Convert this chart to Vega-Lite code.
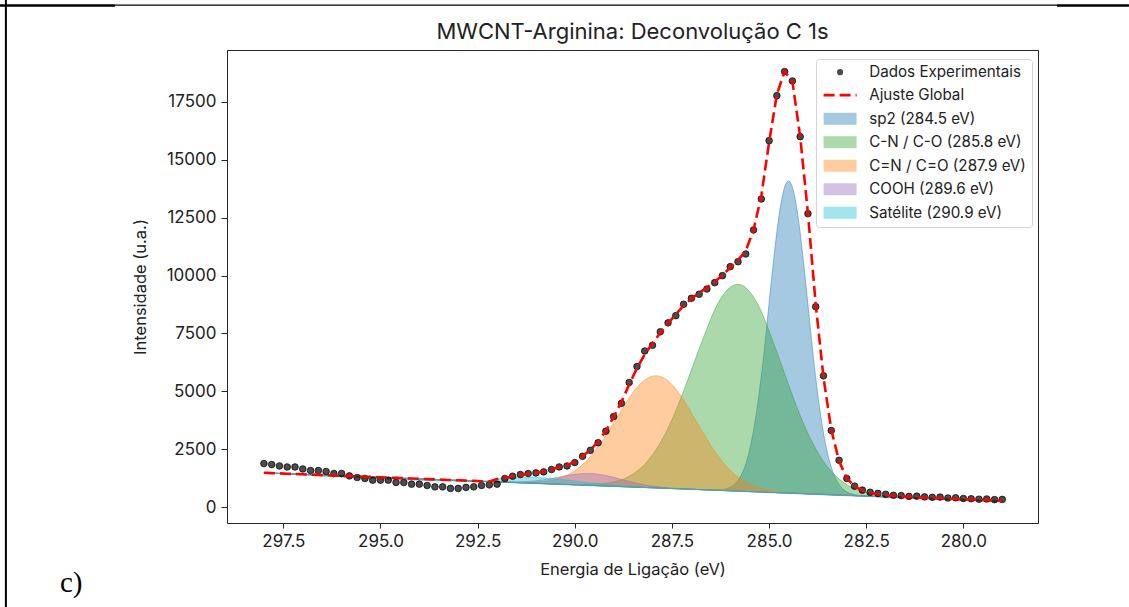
{
  "$schema": "https://vega.github.io/schema/vega-lite/v6.json",
  "width": 811,
  "height": 473,
  "autosize": {"type": "none"},
  "padding": {"left": 227, "top": 50, "right": 91, "bottom": 84},
  "background": "white",
  "title": {"text": "MWCNT-Arginina: Deconvolução C 1s", "font": "Inter", "fontSize": 22, "fontWeight": "normal", "color": "#222222", "offset": -45, "frame": "group", "anchor": "middle"},
  "config": {
    "view": {"stroke": "#262626", "strokeWidth": 1},
    "axis": {"labelFont": "Inter", "labelFontSize": 17, "labelColor": "#222222", "titleFont": "Inter", "titleFontSize": 16.5, "titleFontWeight": "normal", "titleColor": "#222222", "tickColor": "#262626", "tickSize": 5, "domain": false, "grid": false, "labelOverlap": false, "labelFlush": false},
    "legend": {"labelFont": "Inter", "labelFontSize": 15.2, "labelColor": "#222222", "labelLimit": 400}
  },
  "datasets": {
    "main": [
      {"E": 298.0, "I": 1887, "F": 1489}, {"E": 297.8, "I": 1844, "F": 1476}, {"E": 297.6, "I": 1784, "F": 1463}, {"E": 297.4, "I": 1741, "F": 1450},
      {"E": 297.2, "I": 1741, "F": 1437}, {"E": 297.0, "I": 1655, "F": 1425}, {"E": 296.8, "I": 1586, "F": 1411}, {"E": 296.6, "I": 1586, "F": 1398},
      {"E": 296.4, "I": 1544, "F": 1385}, {"E": 296.2, "I": 1458, "F": 1372}, {"E": 296.0, "I": 1458, "F": 1359}, {"E": 295.8, "I": 1355, "F": 1347},
      {"E": 295.6, "I": 1286, "F": 1334}, {"E": 295.4, "I": 1243, "F": 1321}, {"E": 295.2, "I": 1171, "F": 1308}, {"E": 295.0, "I": 1171, "F": 1295},
      {"E": 294.8, "I": 1171, "F": 1282}, {"E": 294.6, "I": 1072, "F": 1269}, {"E": 294.4, "I": 1072, "F": 1256}, {"E": 294.2, "I": 999, "F": 1243},
      {"E": 294.0, "I": 999, "F": 1230}, {"E": 293.8, "I": 943, "F": 1218}, {"E": 293.6, "I": 883, "F": 1205}, {"E": 293.4, "I": 883, "F": 1192},
      {"E": 293.2, "I": 815, "F": 1179}, {"E": 293.0, "I": 815, "F": 1166}, {"E": 292.8, "I": 858, "F": 1153}, {"E": 292.6, "I": 883, "F": 1140},
      {"E": 292.4, "I": 943, "F": 1127}, {"E": 292.2, "I": 969, "F": 1114}, {"E": 292.0, "I": 999, "F": 1220}, {"E": 291.8, "I": 1243, "F": 1270},
      {"E": 291.6, "I": 1342, "F": 1330}, {"E": 291.4, "I": 1415, "F": 1390}, {"E": 291.2, "I": 1458, "F": 1440}, {"E": 291.0, "I": 1484, "F": 1490},
      {"E": 290.8, "I": 1527, "F": 1550}, {"E": 290.6, "I": 1629, "F": 1640}, {"E": 290.4, "I": 1741, "F": 1740}, {"E": 290.2, "I": 1784, "F": 1830},
      {"E": 290.0, "I": 1930, "F": 1960}, {"E": 289.8, "I": 2200, "F": 2200}, {"E": 289.6, "I": 2457, "F": 2480}, {"E": 289.4, "I": 2787, "F": 2830},
      {"E": 289.2, "I": 3285, "F": 3300}, {"E": 289.0, "I": 3915, "F": 3900}, {"E": 288.8, "I": 4485, "F": 4550}, {"E": 288.6, "I": 5386, "F": 5300},
      {"E": 288.4, "I": 6072, "F": 6000}, {"E": 288.2, "I": 6745, "F": 6600}, {"E": 288.0, "I": 6990, "F": 7080}, {"E": 287.8, "I": 7573, "F": 7520},
      {"E": 287.6, "I": 7959, "F": 7930}, {"E": 287.4, "I": 8268, "F": 8332}, {"E": 287.2, "I": 8760, "F": 8704}, {"E": 287.0, "I": 9018, "F": 9006},
      {"E": 286.8, "I": 9192, "F": 9248}, {"E": 286.6, "I": 9420, "F": 9479}, {"E": 286.4, "I": 9692, "F": 9731}, {"E": 286.2, "I": 9994, "F": 10013},
      {"E": 286.0, "I": 10382, "F": 10345}, {"E": 285.8, "I": 10597, "F": 10667}, {"E": 285.6, "I": 10930, "F": 11069}, {"E": 285.4, "I": 11966, "F": 11975},
      {"E": 285.2, "I": 13303, "F": 13434}, {"E": 285.0, "I": 15819, "F": 15750}, {"E": 284.8, "I": 17760, "F": 17810}, {"E": 284.6, "I": 18797, "F": 18818},
      {"E": 284.4, "I": 18395, "F": 18365}, {"E": 284.2, "I": 15992, "F": 16000}, {"E": 284.0, "I": 12669, "F": 12680}, {"E": 283.8, "I": 8656, "F": 8755},
      {"E": 283.6, "I": 5673, "F": 5600}, {"E": 283.4, "I": 3315, "F": 3350}, {"E": 283.2, "I": 2028, "F": 2000}, {"E": 283.0, "I": 1244, "F": 1250},
      {"E": 282.8, "I": 913, "F": 900}, {"E": 282.6, "I": 740, "F": 720}, {"E": 282.4, "I": 650, "F": 620}, {"E": 282.2, "I": 600, "F": 560},
      {"E": 282.0, "I": 560, "F": 520}, {"E": 281.8, "I": 520, "F": 490}, {"E": 281.6, "I": 505, "F": 470}, {"E": 281.4, "I": 470, "F": 450},
      {"E": 281.2, "I": 480, "F": 430}, {"E": 281.0, "I": 450, "F": 415}, {"E": 280.8, "I": 430, "F": 400}, {"E": 280.6, "I": 440, "F": 390},
      {"E": 280.4, "I": 400, "F": 375}, {"E": 280.2, "I": 410, "F": 360}, {"E": 280.0, "I": 380, "F": 350}, {"E": 279.8, "I": 370, "F": 335},
      {"E": 279.6, "I": 350, "F": 320}, {"E": 279.4, "I": 360, "F": 310}, {"E": 279.2, "I": 330, "F": 300}, {"E": 279.0, "I": 340, "F": 290}
    ],
    "comps": [
      {"c": "sp2 (284.5 eV)", "E": 279.0, "top": 260, "base": 260},
      {"c": "sp2 (284.5 eV)", "E": 282.0, "top": 454, "base": 454},
      {"c": "sp2 (284.5 eV)", "E": 282.5, "top": 490, "base": 486},
      {"c": "sp2 (284.5 eV)", "E": 282.7, "top": 520, "base": 499},
      {"c": "sp2 (284.5 eV)", "E": 282.8, "top": 547, "base": 506},
      {"c": "sp2 (284.5 eV)", "E": 282.9, "top": 592, "base": 512},
      {"c": "sp2 (284.5 eV)", "E": 283.0, "top": 668, "base": 519},
      {"c": "sp2 (284.5 eV)", "E": 283.1, "top": 791, "base": 526},
      {"c": "sp2 (284.5 eV)", "E": 283.2, "top": 987, "base": 532},
      {"c": "sp2 (284.5 eV)", "E": 283.3, "top": 1290, "base": 539},
      {"c": "sp2 (284.5 eV)", "E": 283.4, "top": 1735, "base": 545},
      {"c": "sp2 (284.5 eV)", "E": 283.5, "top": 2363, "base": 552},
      {"c": "sp2 (284.5 eV)", "E": 283.6, "top": 3206, "base": 558},
      {"c": "sp2 (284.5 eV)", "E": 283.7, "top": 4284, "base": 564},
      {"c": "sp2 (284.5 eV)", "E": 283.8, "top": 5593, "base": 571},
      {"c": "sp2 (284.5 eV)", "E": 283.9, "top": 7091, "base": 578},
      {"c": "sp2 (284.5 eV)", "E": 284.0, "top": 8754, "base": 584},
      {"c": "sp2 (284.5 eV)", "E": 284.1, "top": 10370, "base": 590},
      {"c": "sp2 (284.5 eV)", "E": 284.2, "top": 11847, "base": 597},
      {"c": "sp2 (284.5 eV)", "E": 284.3, "top": 13036, "base": 603},
      {"c": "sp2 (284.5 eV)", "E": 284.4, "top": 13811, "base": 610},
      {"c": "sp2 (284.5 eV)", "E": 284.5, "top": 14080, "base": 616},
      {"c": "sp2 (284.5 eV)", "E": 284.6, "top": 13824, "base": 623},
      {"c": "sp2 (284.5 eV)", "E": 284.7, "top": 13062, "base": 629},
      {"c": "sp2 (284.5 eV)", "E": 284.8, "top": 11886, "base": 636},
      {"c": "sp2 (284.5 eV)", "E": 284.9, "top": 10422, "base": 642},
      {"c": "sp2 (284.5 eV)", "E": 285.0, "top": 8818, "base": 648},
      {"c": "sp2 (284.5 eV)", "E": 285.1, "top": 7168, "base": 655},
      {"c": "sp2 (284.5 eV)", "E": 285.2, "top": 5683, "base": 661},
      {"c": "sp2 (284.5 eV)", "E": 285.3, "top": 4388, "base": 668},
      {"c": "sp2 (284.5 eV)", "E": 285.4, "top": 3322, "base": 674},
      {"c": "sp2 (284.5 eV)", "E": 285.5, "top": 2492, "base": 681},
      {"c": "sp2 (284.5 eV)", "E": 285.6, "top": 1877, "base": 687},
      {"c": "sp2 (284.5 eV)", "E": 285.7, "top": 1445, "base": 694},
      {"c": "sp2 (284.5 eV)", "E": 285.8, "top": 1155, "base": 700},
      {"c": "sp2 (284.5 eV)", "E": 285.9, "top": 971, "base": 706},
      {"c": "sp2 (284.5 eV)", "E": 286.0, "top": 862, "base": 713},
      {"c": "sp2 (284.5 eV)", "E": 286.1, "top": 800, "base": 720},
      {"c": "sp2 (284.5 eV)", "E": 286.2, "top": 767, "base": 726},
      {"c": "sp2 (284.5 eV)", "E": 286.3, "top": 753, "base": 732},
      {"c": "sp2 (284.5 eV)", "E": 286.5, "top": 750, "base": 746},
      {"c": "sp2 (284.5 eV)", "E": 287.0, "top": 778, "base": 778},
      {"c": "sp2 (284.5 eV)", "E": 298.0, "top": 1489, "base": 1489},

      {"c": "C-N / C-O (285.8 eV)", "E": 279.0, "top": 260, "base": 260},
      {"c": "C-N / C-O (285.8 eV)", "E": 281.4, "top": 415, "base": 415},
      {"c": "C-N / C-O (285.8 eV)", "E": 281.8, "top": 462, "base": 441},
      {"c": "C-N / C-O (285.8 eV)", "E": 282.2, "top": 533, "base": 467},
      {"c": "C-N / C-O (285.8 eV)", "E": 282.4, "top": 592, "base": 480},
      {"c": "C-N / C-O (285.8 eV)", "E": 282.6, "top": 678, "base": 493},
      {"c": "C-N / C-O (285.8 eV)", "E": 282.8, "top": 801, "base": 506},
      {"c": "C-N / C-O (285.8 eV)", "E": 283.0, "top": 976, "base": 519},
      {"c": "C-N / C-O (285.8 eV)", "E": 283.2, "top": 1220, "base": 532},
      {"c": "C-N / C-O (285.8 eV)", "E": 283.4, "top": 1549, "base": 545},
      {"c": "C-N / C-O (285.8 eV)", "E": 283.6, "top": 1979, "base": 558},
      {"c": "C-N / C-O (285.8 eV)", "E": 283.8, "top": 2524, "base": 571},
      {"c": "C-N / C-O (285.8 eV)", "E": 284.0, "top": 3187, "base": 584},
      {"c": "C-N / C-O (285.8 eV)", "E": 284.2, "top": 3963, "base": 597},
      {"c": "C-N / C-O (285.8 eV)", "E": 284.4, "top": 4833, "base": 610},
      {"c": "C-N / C-O (285.8 eV)", "E": 284.6, "top": 5764, "base": 623},
      {"c": "C-N / C-O (285.8 eV)", "E": 284.8, "top": 6707, "base": 636},
      {"c": "C-N / C-O (285.8 eV)", "E": 285.0, "top": 7604, "base": 648},
      {"c": "C-N / C-O (285.8 eV)", "E": 285.2, "top": 8446, "base": 661},
      {"c": "C-N / C-O (285.8 eV)", "E": 285.4, "top": 9071, "base": 674},
      {"c": "C-N / C-O (285.8 eV)", "E": 285.6, "top": 9473, "base": 687},
      {"c": "C-N / C-O (285.8 eV)", "E": 285.8, "top": 9620, "base": 700},
      {"c": "C-N / C-O (285.8 eV)", "E": 286.0, "top": 9499, "base": 713},
      {"c": "C-N / C-O (285.8 eV)", "E": 286.2, "top": 9123, "base": 726},
      {"c": "C-N / C-O (285.8 eV)", "E": 286.4, "top": 8524, "base": 739},
      {"c": "C-N / C-O (285.8 eV)", "E": 286.6, "top": 7708, "base": 752},
      {"c": "C-N / C-O (285.8 eV)", "E": 286.8, "top": 6836, "base": 765},
      {"c": "C-N / C-O (285.8 eV)", "E": 287.0, "top": 5919, "base": 778},
      {"c": "C-N / C-O (285.8 eV)", "E": 287.2, "top": 5014, "base": 791},
      {"c": "C-N / C-O (285.8 eV)", "E": 287.4, "top": 4170, "base": 804},
      {"c": "C-N / C-O (285.8 eV)", "E": 287.6, "top": 3420, "base": 817},
      {"c": "C-N / C-O (285.8 eV)", "E": 287.8, "top": 2783, "base": 830},
      {"c": "C-N / C-O (285.8 eV)", "E": 288.0, "top": 2263, "base": 842},
      {"c": "C-N / C-O (285.8 eV)", "E": 288.2, "top": 1859, "base": 855},
      {"c": "C-N / C-O (285.8 eV)", "E": 288.4, "top": 1556, "base": 868},
      {"c": "C-N / C-O (285.8 eV)", "E": 288.6, "top": 1338, "base": 881},
      {"c": "C-N / C-O (285.8 eV)", "E": 288.8, "top": 1189, "base": 894},
      {"c": "C-N / C-O (285.8 eV)", "E": 289.0, "top": 1092, "base": 907},
      {"c": "C-N / C-O (285.8 eV)", "E": 289.2, "top": 1032, "base": 920},
      {"c": "C-N / C-O (285.8 eV)", "E": 289.4, "top": 999, "base": 933},
      {"c": "C-N / C-O (285.8 eV)", "E": 289.6, "top": 984, "base": 946},
      {"c": "C-N / C-O (285.8 eV)", "E": 289.8, "top": 980, "base": 959},
      {"c": "C-N / C-O (285.8 eV)", "E": 290.2, "top": 991, "base": 985},
      {"c": "C-N / C-O (285.8 eV)", "E": 290.6, "top": 1011, "base": 1011},
      {"c": "C-N / C-O (285.8 eV)", "E": 298.0, "top": 1489, "base": 1489},

      {"c": "C=N / C=O (287.9 eV)", "E": 279.0, "top": 260, "base": 260},
      {"c": "C=N / C=O (287.9 eV)", "E": 283.6, "top": 558, "base": 558},
      {"c": "C=N / C=O (287.9 eV)", "E": 284.0, "top": 588, "base": 584},
      {"c": "C=N / C=O (287.9 eV)", "E": 284.4, "top": 625, "base": 610},
      {"c": "C=N / C=O (287.9 eV)", "E": 284.6, "top": 652, "base": 623},
      {"c": "C=N / C=O (287.9 eV)", "E": 284.8, "top": 688, "base": 636},
      {"c": "C=N / C=O (287.9 eV)", "E": 285.0, "top": 740, "base": 648},
      {"c": "C=N / C=O (287.9 eV)", "E": 285.2, "top": 817, "base": 661},
      {"c": "C=N / C=O (287.9 eV)", "E": 285.4, "top": 929, "base": 674},
      {"c": "C=N / C=O (287.9 eV)", "E": 285.6, "top": 1087, "base": 687},
      {"c": "C=N / C=O (287.9 eV)", "E": 285.8, "top": 1306, "base": 700},
      {"c": "C=N / C=O (287.9 eV)", "E": 286.0, "top": 1596, "base": 713},
      {"c": "C=N / C=O (287.9 eV)", "E": 286.2, "top": 1966, "base": 726},
      {"c": "C=N / C=O (287.9 eV)", "E": 286.4, "top": 2415, "base": 739},
      {"c": "C=N / C=O (287.9 eV)", "E": 286.6, "top": 2934, "base": 752},
      {"c": "C=N / C=O (287.9 eV)", "E": 286.8, "top": 3501, "base": 765},
      {"c": "C=N / C=O (287.9 eV)", "E": 287.0, "top": 4082, "base": 778},
      {"c": "C=N / C=O (287.9 eV)", "E": 287.2, "top": 4633, "base": 791},
      {"c": "C=N / C=O (287.9 eV)", "E": 287.4, "top": 5106, "base": 804},
      {"c": "C=N / C=O (287.9 eV)", "E": 287.6, "top": 5456, "base": 817},
      {"c": "C=N / C=O (287.9 eV)", "E": 287.8, "top": 5647, "base": 830},
      {"c": "C=N / C=O (287.9 eV)", "E": 287.9, "top": 5676, "base": 836},
      {"c": "C=N / C=O (287.9 eV)", "E": 288.0, "top": 5659, "base": 842},
      {"c": "C=N / C=O (287.9 eV)", "E": 288.2, "top": 5494, "base": 855},
      {"c": "C=N / C=O (287.9 eV)", "E": 288.4, "top": 5170, "base": 868},
      {"c": "C=N / C=O (287.9 eV)", "E": 288.6, "top": 4723, "base": 881},
      {"c": "C=N / C=O (287.9 eV)", "E": 288.8, "top": 4198, "base": 894},
      {"c": "C=N / C=O (287.9 eV)", "E": 289.0, "top": 3643, "base": 907},
      {"c": "C=N / C=O (287.9 eV)", "E": 289.2, "top": 3102, "base": 920},
      {"c": "C=N / C=O (287.9 eV)", "E": 289.4, "top": 2609, "base": 933},
      {"c": "C=N / C=O (287.9 eV)", "E": 289.6, "top": 2186, "base": 946},
      {"c": "C=N / C=O (287.9 eV)", "E": 289.8, "top": 1842, "base": 959},
      {"c": "C=N / C=O (287.9 eV)", "E": 290.0, "top": 1578, "base": 972},
      {"c": "C=N / C=O (287.9 eV)", "E": 290.2, "top": 1385, "base": 985},
      {"c": "C=N / C=O (287.9 eV)", "E": 290.4, "top": 1253, "base": 998},
      {"c": "C=N / C=O (287.9 eV)", "E": 290.6, "top": 1167, "base": 1011},
      {"c": "C=N / C=O (287.9 eV)", "E": 290.8, "top": 1116, "base": 1024},
      {"c": "C=N / C=O (287.9 eV)", "E": 291.0, "top": 1089, "base": 1037},
      {"c": "C=N / C=O (287.9 eV)", "E": 291.2, "top": 1079, "base": 1050},
      {"c": "C=N / C=O (287.9 eV)", "E": 291.4, "top": 1078, "base": 1063},
      {"c": "C=N / C=O (287.9 eV)", "E": 291.8, "top": 1093, "base": 1089},
      {"c": "C=N / C=O (287.9 eV)", "E": 292.2, "top": 1114, "base": 1114},
      {"c": "C=N / C=O (287.9 eV)", "E": 298.0, "top": 1489, "base": 1489},

      {"c": "COOH (289.6 eV)", "E": 279.0, "top": 260, "base": 260},
      {"c": "COOH (289.6 eV)", "E": 286.8, "top": 765, "base": 765},
      {"c": "COOH (289.6 eV)", "E": 287.2, "top": 797, "base": 791},
      {"c": "COOH (289.6 eV)", "E": 287.6, "top": 839, "base": 817},
      {"c": "COOH (289.6 eV)", "E": 287.8, "top": 871, "base": 830},
      {"c": "COOH (289.6 eV)", "E": 288.0, "top": 911, "base": 842},
      {"c": "COOH (289.6 eV)", "E": 288.2, "top": 965, "base": 855},
      {"c": "COOH (289.6 eV)", "E": 288.4, "top": 1034, "base": 868},
      {"c": "COOH (289.6 eV)", "E": 288.6, "top": 1114, "base": 881},
      {"c": "COOH (289.6 eV)", "E": 288.8, "top": 1203, "base": 894},
      {"c": "COOH (289.6 eV)", "E": 289.0, "top": 1292, "base": 907},
      {"c": "COOH (289.6 eV)", "E": 289.2, "top": 1370, "base": 920},
      {"c": "COOH (289.6 eV)", "E": 289.4, "top": 1427, "base": 933},
      {"c": "COOH (289.6 eV)", "E": 289.6, "top": 1456, "base": 946},
      {"c": "COOH (289.6 eV)", "E": 289.8, "top": 1453, "base": 959},
      {"c": "COOH (289.6 eV)", "E": 290.0, "top": 1422, "base": 972},
      {"c": "COOH (289.6 eV)", "E": 290.2, "top": 1370, "base": 985},
      {"c": "COOH (289.6 eV)", "E": 290.4, "top": 1307, "base": 998},
      {"c": "COOH (289.6 eV)", "E": 290.6, "top": 1244, "base": 1011},
      {"c": "COOH (289.6 eV)", "E": 290.8, "top": 1190, "base": 1024},
      {"c": "COOH (289.6 eV)", "E": 291.0, "top": 1147, "base": 1037},
      {"c": "COOH (289.6 eV)", "E": 291.2, "top": 1119, "base": 1050},
      {"c": "COOH (289.6 eV)", "E": 291.4, "top": 1104, "base": 1063},
      {"c": "COOH (289.6 eV)", "E": 291.6, "top": 1098, "base": 1076},
      {"c": "COOH (289.6 eV)", "E": 292.0, "top": 1107, "base": 1101},
      {"c": "COOH (289.6 eV)", "E": 292.2, "top": 1114, "base": 1114},
      {"c": "COOH (289.6 eV)", "E": 298.0, "top": 1489, "base": 1489},

      {"c": "Satélite (290.9 eV)", "E": 279.0, "top": 260, "base": 260},
      {"c": "Satélite (290.9 eV)", "E": 287.4, "top": 804, "base": 804},
      {"c": "Satélite (290.9 eV)", "E": 287.8, "top": 832, "base": 830},
      {"c": "Satélite (290.9 eV)", "E": 288.2, "top": 862, "base": 855},
      {"c": "Satélite (290.9 eV)", "E": 288.6, "top": 899, "base": 881},
      {"c": "Satélite (290.9 eV)", "E": 288.8, "top": 922, "base": 894},
      {"c": "Satélite (290.9 eV)", "E": 289.0, "top": 948, "base": 907},
      {"c": "Satélite (290.9 eV)", "E": 289.2, "top": 979, "base": 920},
      {"c": "Satélite (290.9 eV)", "E": 289.4, "top": 1014, "base": 933},
      {"c": "Satélite (290.9 eV)", "E": 289.6, "top": 1053, "base": 946},
      {"c": "Satélite (290.9 eV)", "E": 289.8, "top": 1096, "base": 959},
      {"c": "Satélite (290.9 eV)", "E": 290.0, "top": 1139, "base": 972},
      {"c": "Satélite (290.9 eV)", "E": 290.2, "top": 1181, "base": 985},
      {"c": "Satélite (290.9 eV)", "E": 290.4, "top": 1219, "base": 998},
      {"c": "Satélite (290.9 eV)", "E": 290.6, "top": 1250, "base": 1011},
      {"c": "Satélite (290.9 eV)", "E": 290.8, "top": 1273, "base": 1024},
      {"c": "Satélite (290.9 eV)", "E": 291.0, "top": 1286, "base": 1037},
      {"c": "Satélite (290.9 eV)", "E": 291.2, "top": 1289, "base": 1050},
      {"c": "Satélite (290.9 eV)", "E": 291.4, "top": 1284, "base": 1063},
      {"c": "Satélite (290.9 eV)", "E": 291.6, "top": 1272, "base": 1076},
      {"c": "Satélite (290.9 eV)", "E": 291.8, "top": 1256, "base": 1089},
      {"c": "Satélite (290.9 eV)", "E": 292.0, "top": 1238, "base": 1101},
      {"c": "Satélite (290.9 eV)", "E": 292.2, "top": 1114, "base": 1114},
      {"c": "Satélite (290.9 eV)", "E": 298.0, "top": 1489, "base": 1489}
    ]
  },
  "layer": [
    {
      "data": {"name": "comps"},
      "mark": {"type": "area", "fillOpacity": 0.4, "strokeWidth": 1, "strokeOpacity": 0.45, "interpolate": "monotone"},
      "encoding": {
        "x": {"field": "E", "type": "quantitative", "scale": {"domain": [278.08, 298.95], "reverse": true, "nice": false, "zero": false},
              "axis": {"values": [297.5, 295, 292.5, 290, 287.5, 285, 282.5, 280], "format": ".1f", "title": "Energia de Ligação (eV)", "tickSize": 5, "labelPadding": 5, "titlePadding": 12.5}},
        "y": {"field": "top", "type": "quantitative", "stack": null, "scale": {"domain": [-677, 19731], "nice": false, "zero": false},
              "axis": {"values": [0, 2500, 5000, 7500, 10000, 12500, 15000, 17500], "format": "d", "title": "Intensidade (u.a.)", "tickSize": 6, "labelPadding": 5, "titlePadding": 17.5}},
        "y2": {"field": "base"},
        "color": {"field": "c", "type": "nominal",
          "scale": {"domain": ["sp2 (284.5 eV)", "C-N / C-O (285.8 eV)", "C=N / C=O (287.9 eV)", "COOH (289.6 eV)", "Satélite (290.9 eV)"],
                    "range": ["#1f77b4", "#2ca02c", "#ff7f0e", "#9467bd", "#17becf"]},
          "legend": {"title": " ", "titleFontSize": 10, "titlePadding": 36.2, "orient": "none", "legendX": 589, "legendY": 9, "padding": 6,
                     "strokeColor": "#d4d4d4", "fillColor": "rgba(255,255,255,0.85)", "cornerRadius": 3,
                     "symbolType": "M-2.75,-1H2.75V1H-2.75Z", "symbolSize": 144, "symbolOffset": 10.5, "symbolOpacity": 0.4, "symbolStrokeWidth": 0,
                     "labelOffset": 21.5, "rowPadding": 7.5}},
        "stroke": {"field": "c", "type": "nominal",
          "scale": {"domain": ["Satélite (290.9 eV)", "COOH (289.6 eV)", "C=N / C=O (287.9 eV)", "C-N / C-O (285.8 eV)", "sp2 (284.5 eV)"],
                    "range": ["#17becf", "#9467bd", "#ff7f0e", "#2ca02c", "#1f77b4"]},
          "legend": null}
      }
    },
    {
      "data": {"name": "main"},
      "mark": {"type": "point", "filled": true, "size": 44, "color": "#000000", "stroke": "#000000", "opacity": 1, "fillOpacity": 0.7, "strokeOpacity": 0.7, "strokeWidth": 1},
      "encoding": {
        "x": {"field": "E", "type": "quantitative"},
        "y": {"field": "I", "type": "quantitative"},
        "shape": {"datum": "Dados Experimentais", "type": "nominal", "scale": {"range": ["circle"]},
          "legend": {"title": null, "orient": "none", "legendX": 589, "legendY": 8.6, "padding": 6, "symbolSize": 38, "symbolOffset": 10.5,
                     "symbolFillColor": "#000000", "symbolStrokeColor": "#000000", "symbolStrokeWidth": 1, "symbolOpacity": 0.7, "labelOffset": 21.5}}
      }
    },
    {
      "data": {"name": "main"},
      "mark": {"type": "line", "color": "#ff0000", "strokeWidth": 2.6},
      "encoding": {
        "x": {"field": "E", "type": "quantitative"},
        "y": {"field": "F", "type": "quantitative"},
        "strokeDash": {"datum": "Ajuste Global", "type": "nominal", "scale": {"range": [[11, 5]]},
          "legend": {"title": null, "orient": "none", "legendX": 589, "legendY": 31.5, "padding": 6, "symbolType": "M-2.75,0H2.75", "symbolSize": 144, "symbolOffset": 10.5,
                     "symbolStrokeColor": "#ff0000", "symbolStrokeWidth": 2.6, "labelOffset": 21.5}}
      }
    },
    {
      "data": {"values": [{}]},
      "mark": {"type": "rule", "color": "#000000", "strokeWidth": 2},
      "encoding": {"x": {"datum": 304.64, "type": "quantitative"}, "y": {"datum": 21890, "type": "quantitative"}, "y2": {"datum": -4302}}
    },
    {
      "data": {"values": [{}]},
      "mark": {"type": "rule", "color": "#000000", "strokeWidth": 1.2},
      "encoding": {"x": {"datum": 304.79, "type": "quantitative"}, "x2": {"datum": 275.74}, "y": {"datum": 21670, "type": "quantitative"}}
    },
    {
      "data": {"values": [{}]},
      "mark": {"type": "rule", "color": "#000000", "strokeWidth": 2.4},
      "encoding": {"x": {"datum": 304.79, "type": "quantitative"}, "x2": {"datum": 301.83}, "y": {"datum": 21645, "type": "quantitative"}}
    },
    {
      "data": {"values": [{}]},
      "mark": {"type": "rule", "color": "#000000", "strokeWidth": 2.4},
      "encoding": {"x": {"datum": 277.59, "type": "quantitative"}, "x2": {"datum": 275.74}, "y": {"datum": 21645, "type": "quantitative"}}
    },
    {
      "data": {"values": [{}]},
      "mark": {"type": "text", "text": "c)", "font": "Liberation Serif", "fontSize": 29, "color": "#000000", "align": "left", "baseline": "alphabetic"},
      "encoding": {"x": {"datum": 303.25, "type": "quantitative"}, "y": {"datum": -3655, "type": "quantitative"}}
    }
  ]
}
